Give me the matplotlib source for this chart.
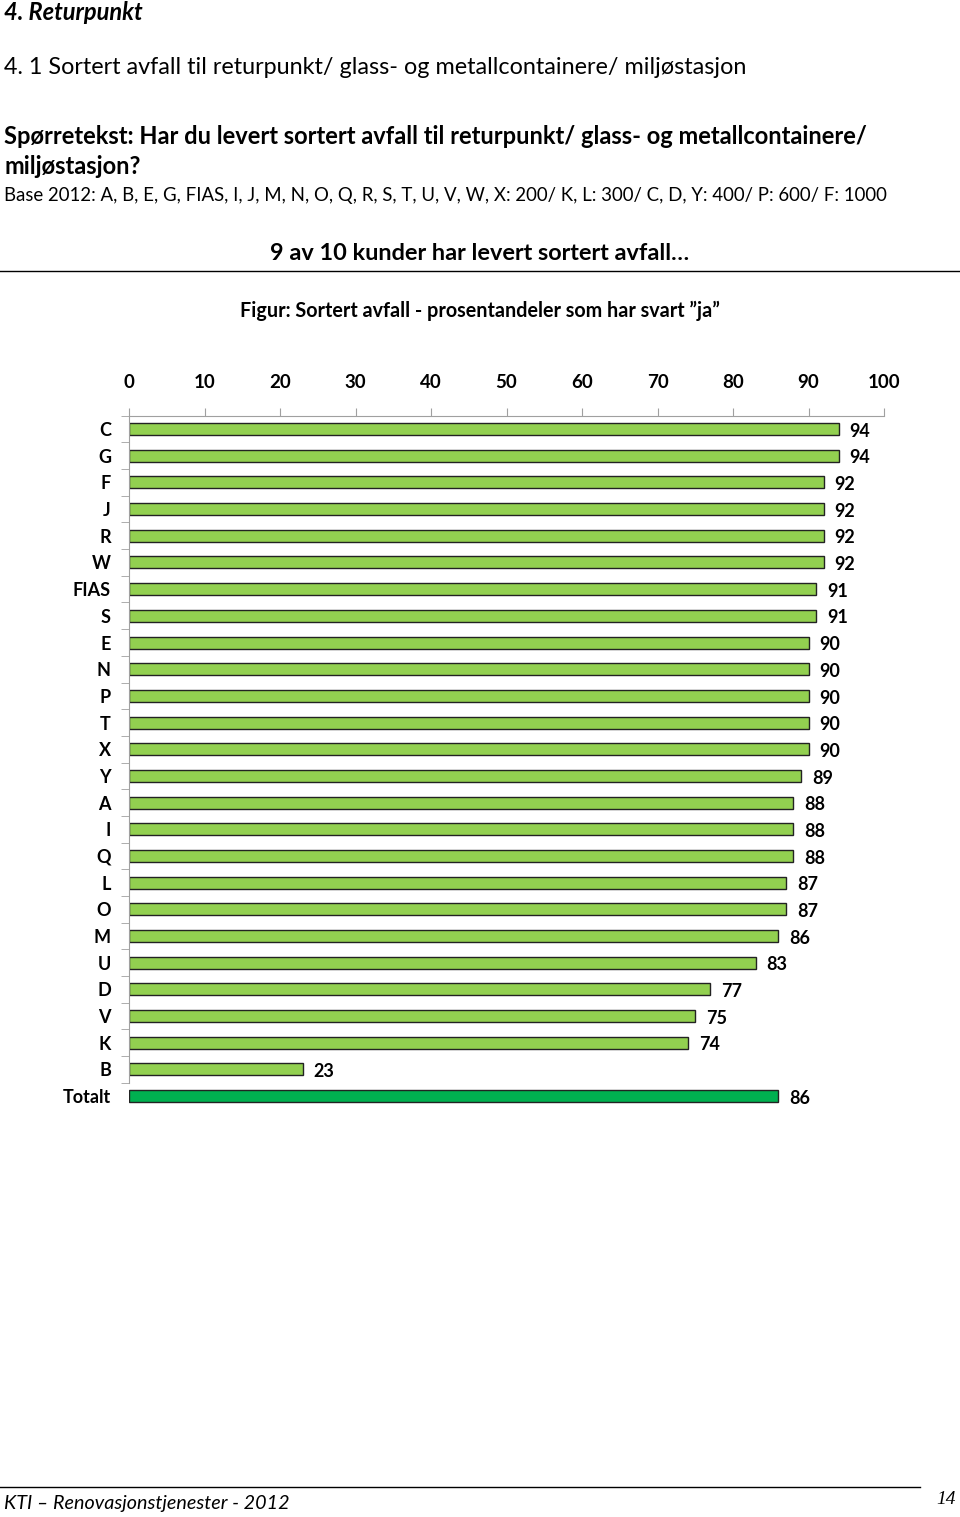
import matplotlib.pyplot as plt
import numpy as np
from matplotlib.lines import Line2D

plt.rcParams['font.family'] = ['Lato', 'DejaVu Sans']

# data, top to bottom
categories = ['C', 'G', 'F', 'J', 'R', 'W', 'FIAS', 'S', 'E', 'N', 'P', 'T', 'X',
              'Y', 'A', 'I', 'Q', 'L', 'O', 'M', 'U', 'D', 'V', 'K', 'B', 'Totalt']
values = [94, 94, 92, 92, 92, 92, 91, 91, 90, 90, 90, 90, 90,
          89, 88, 88, 88, 87, 87, 86, 83, 77, 75, 74, 23, 86]
xticks = [0, 10, 20, 30, 40, 50, 60, 70, 80, 90, 100]

W, H = 960, 1517
fig = plt.figure(figsize=(W / 100, H / 100), dpi=100)

def px(x, y):
    return x / W, 1 - y / H

# header texts
fig.text(*px(4, 12), '4. Returpunkt', fontsize=17, fontweight='bold', fontstyle='italic', va='center')
fig.text(*px(4, 68), '4. 1 Sortert avfall til returpunkt/ glass- og metallcontainere/ miljøstasjon',
         fontsize=16.8, va='center')
fig.text(*px(4, 136), 'Spørretekst: Har du levert sortert avfall til returpunkt/ glass- og metallcontainere/',
         fontsize=17, fontweight='bold', va='center')
fig.text(*px(4, 167), 'miljøstasjon?', fontsize=17, fontweight='bold', va='center')
fig.text(*px(4, 195), 'Base 2012: A, B, E, G, FIAS, I, J, M, N, O, Q, R, S, T, U, V, W, X: 200/ K, L: 300/ C, D, Y: 400/ P: 600/ F: 1000',
         fontsize=13.45, va='center')
fig.text(*px(480, 254), '9 av 10 kunder har levert sortert avfall…', fontsize=16.9, fontweight='bold',
         ha='center', va='center')
fig.add_artist(Line2D([0, 1], [1 - 271 / H] * 2, color='black', lw=1, transform=fig.transFigure))
fig.text(*px(480, 311), 'Figur: Sortert avfall - prosentandeler som har svart ”ja”', fontsize=14.2,
         fontweight='bold', ha='center', va='center')

# footer
fig.add_artist(Line2D([0, 920 / W], [1 - 1487 / H] * 2, color='black', lw=1, transform=fig.transFigure))
fig.text(*px(4, 1504), 'KTI – Renovasjonstjenester - 2012', fontsize=14.2, fontstyle='italic', va='center')
fig.text(*px(936, 1500), '14', fontsize=14, fontstyle='italic', family='Liberation Serif', va='center')

# chart
ax = fig.add_axes([129 / W, 1 - 1109.5 / H, (884 - 129) / W, (1109.5 - 415.7) / H])
y = np.arange(len(categories))
colors = ['#92D050'] * (len(categories) - 1) + ['#00B050']
ax.barh(y, values, height=0.45, color=colors, edgecolor='#222222', linewidth=1)
for yi, v in zip(y, values):
    ax.text(v + 1.45, yi + 0.08, str(v), fontsize=13, fontweight='bold', va='center', ha='left')

ax.set_xlim(0, 100)
ax.set_ylim(len(categories) - 0.5, -0.5)
ax.xaxis.tick_top()
ax.set_xticks(xticks)
ax.set_xticklabels([str(t) for t in xticks], fontsize=13.5, fontweight='bold')
ax.tick_params(axis='x', direction='out', length=6, color='#a0a0a0', pad=12)
ax.set_yticks(y)
ax.set_yticklabels(categories, fontsize=13, fontweight='bold')
ax.set_yticks(np.arange(-0.5, len(categories) - 1, 1), minor=True)
ax.tick_params(axis='y', which='major', length=0, pad=13)
ax.tick_params(axis='y', which='minor', direction='out', length=6, color='#a0a0a0')
for s in ['right', 'bottom']:
    ax.spines[s].set_visible(False)
for s in ['left', 'top']:
    ax.spines[s].set_color('#a0a0a0')
ax.spines['left'].set_bounds(len(categories) - 1.5, -0.5)

fig.savefig('out.png', dpi=100)
